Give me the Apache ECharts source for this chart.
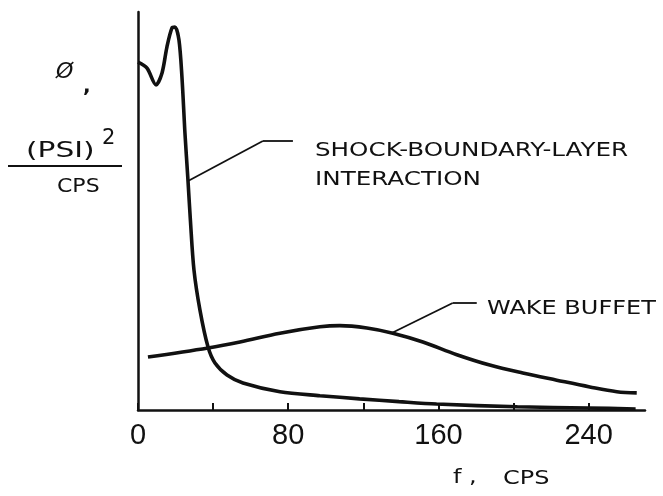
<!DOCTYPE html>
<html><head><meta charset="utf-8">
<script src="https://cdn.jsdelivr.net/npm/echarts@6/dist/echarts.min.js"></script>
<style>html,body{margin:0;padding:0;background:#fff}#c{width:663px;height:496px}</style>
</head><body><div id="c"></div>
<script>
// Shock-boundary-layer interaction spectrum (f in CPS, relative PSD)
const shockFreq = [0, 4.8, 9.6, 12.8, 15.4, 18.1, 19.7, 21.8, 23.4, 25.0, 26.6, 27.9, 29.8, 33.0, 37.3, 41.0, 47.4, 55.9, 75.6, 96.9, 118, 139, 159, 202, 240, 265];
const shockPsd  = [87.4, 85.9, 81.7, 84.7, 91.2, 96.0, 96.2, 93.0, 83.7, 69.6, 57.8, 47.7, 35.2, 25.1, 15.8, 11.8, 8.8, 6.8, 4.6, 3.6, 2.8, 2.1, 1.5, 0.8, 0.5, 0.25];
// Wake buffet spectrum
const wakeFreq = [5.3, 37.3, 54.3, 75.6, 96.9, 107.5, 121.9, 135.7, 151.7, 169.8, 187.3, 204.9, 223, 240.6, 255, 265.6];
const wakePsd  = [13.3, 15.6, 17.1, 19.3, 20.9, 21.2, 20.6, 19.3, 17.1, 13.9, 11.3, 9.3, 7.5, 5.8, 4.6, 4.3];
// Tick labels shown on the frequency axis
const xTickLabels = [0, 80, 160, 240];
// Annotation texts
const shockName = ['SHOCK-BOUNDARY-LAYER', 'INTERACTION'];
const wakeName = 'WAKE BUFFET';

const ink = '#111';
const letterFont = '"DejaVu Sans", sans-serif';
const zip = (a, b) => a.map((v, i) => [v, b[i]]);

const chart = echarts.init(document.getElementById('c'), null, { renderer: 'canvas' });

const leader = (tip, elbow, end) => ({
  silent: true,
  symbol: ['none', 'arrow'],
  symbolSize: [0, 9],
  label: { show: false },
  emphasis: { disabled: true },
  lineStyle: { color: ink, width: 1.8, type: 'solid' },
  data: [
    [{ coord: end, symbol: 'none' }, { coord: elbow, symbol: 'none' }],
    [{ coord: elbow, symbol: 'none' }, { coord: tip }]
  ]
});

chart.setOption({
  animation: false,
  backgroundColor: '#fff',
  grid: { left: 138, right: 18, top: 12, bottom: 86 },
  xAxis: {
    type: 'value', min: 0, max: 270, interval: 40,
    axisLine: { lineStyle: { color: ink, width: 2.5 } },
    axisTick: { inside: true, length: 7, lineStyle: { color: ink, width: 2 } },
    splitLine: { show: false },
    axisLabel: {
      color: ink, fontSize: 29, margin: 11, showMaxLabel: false,
      fontFamily: '"Liberation Sans", sans-serif',
      formatter: v => xTickLabels.includes(v) ? String(v) : ''
    }
  },
  yAxis: {
    type: 'value', min: 0, max: 100,
    axisLine: { show: true, lineStyle: { color: ink, width: 2.5 } },
    axisTick: { show: false }, axisLabel: { show: false }, splitLine: { show: false }
  },
  series: [
    {
      name: shockName.join(' '), type: 'line', data: zip(shockFreq, shockPsd),
      smooth: 0.3, showSymbol: false, lineStyle: { color: ink, width: 3.6 },
      markLine: leader([26.9, 57.6], [66.5, 67.6], [82.5, 67.6])
    },
    {
      name: wakeName, type: 'line', data: zip(wakeFreq, wakePsd),
      smooth: 0.35, showSymbol: false, lineStyle: { color: ink, width: 3.6 },
      markLine: leader([135.4, 19.4], [167.6, 26.9], [180.4, 26.9])
    }
  ],
  graphic: [
    { type: 'text', x: 315, y: 151, scaleX: 1.23, style: { text: shockName[0], font: '20px ' + letterFont, fill: ink, verticalAlign: 'middle' } },
    { type: 'text', x: 315, y: 180, scaleX: 1.23, style: { text: shockName[1], font: '20px ' + letterFont, fill: ink, verticalAlign: 'middle' } },
    { type: 'text', x: 487, y: 309, scaleX: 1.2, style: { text: wakeName, font: '20px ' + letterFont, fill: ink, verticalAlign: 'middle' } },
    // x-axis title
    { type: 'text', x: 453, y: 478, scaleX: 1.2, style: { text: 'f ,', font: '20px ' + letterFont, fill: ink, verticalAlign: 'middle' } },
    { type: 'text', x: 503, y: 479, scaleX: 1.2, style: { text: 'CPS', font: '20px ' + letterFont, fill: ink, verticalAlign: 'middle' } },
    // y-axis title
    { type: 'text', x: 56, y: 72, style: { text: 'Ø', font: 'italic 22px ' + letterFont, fill: ink, verticalAlign: 'middle' } },
    { type: 'text', x: 83, y: 87, style: { text: ',', font: 'bold 20px ' + letterFont, fill: ink, verticalAlign: 'middle' } },
    { type: 'text', x: 26, y: 151, scaleX: 1.35, style: { text: '(PSI)', font: '22px ' + letterFont, fill: ink, verticalAlign: 'middle' } },
    { type: 'text', x: 102, y: 139, style: { text: '2', font: '21px ' + letterFont, fill: ink, verticalAlign: 'middle' } },
    { type: 'line', shape: { x1: 8, y1: 166, x2: 122, y2: 166 }, style: { stroke: ink, lineWidth: 2 } },
    { type: 'text', x: 57, y: 187, scaleX: 1.1, style: { text: 'CPS', font: '20px ' + letterFont, fill: ink, verticalAlign: 'middle' } }
  ]
});
</script>
</body></html>
